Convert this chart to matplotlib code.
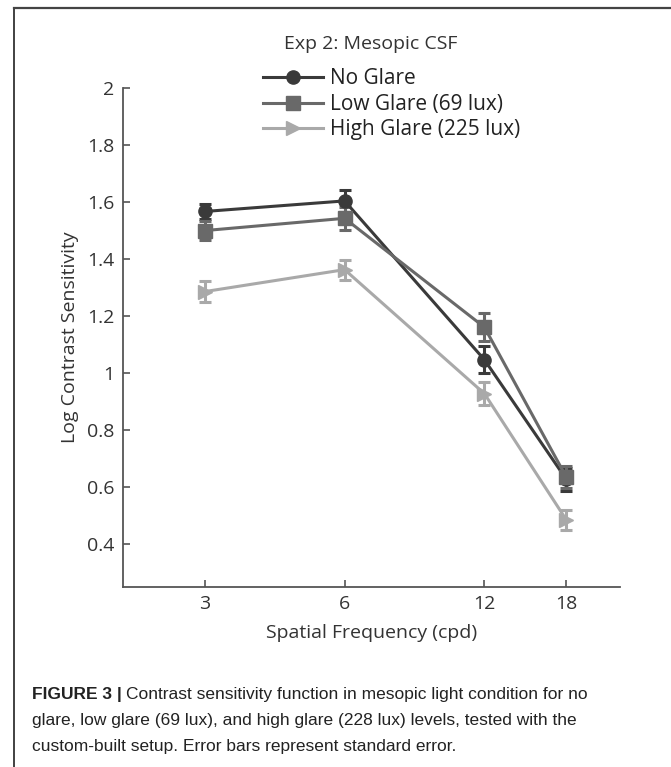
import matplotlib
matplotlib.use("Agg")
import matplotlib.pyplot as plt
from matplotlib.lines import Line2D
import numpy as np

freqs = [3, 6, 12, 18]
no_glare = [1.567, 1.604, 1.047, 0.628]
no_glare_err = [0.025, 0.038, 0.048, 0.04]
low_glare = [1.50, 1.543, 1.161, 0.636]
low_glare_err = [0.033, 0.04, 0.05, 0.04]
high_glare = [1.286, 1.363, 0.928, 0.486]
high_glare_err = [0.037, 0.035, 0.04, 0.035]
labels = ["No Glare", "Low Glare (69 lux)", "High Glare (225 lux)"]
ytick_vals = [0.4, 0.6, 0.8, 1.0, 1.2, 1.4, 1.6, 1.8, 2.0]
ytick_labels = ["0.4", "0.6", "0.8", "1", "1.2", "1.4", "1.6", "1.8", "2"]

colors = ["#3a3a3a", "#696969", "#a9a9a9"]
markers = ["o", "s", ">"]
txt = "#333333"
font = ["Open Sans", "DejaVu Sans"]
capfont = ["Liberation Sans", "DejaVu Sans"]

W, H = 671, 767
fig = plt.figure(figsize=(W / 100, H / 100), dpi=100)
ax = fig.add_axes([123 / W, 1 - 587 / H, (620 - 123) / W, (587 - 88) / H])

series = [(no_glare, no_glare_err), (low_glare, low_glare_err), (high_glare, high_glare_err)]
handles = []
for (vals, errs), c, m, lab in zip(series, colors, markers, labels):
    ax.errorbar(freqs, vals, yerr=errs, color=c, ecolor=c, elinewidth=2.2,
                capsize=4, capthick=2.2, lw=2.2, marker=m, markersize=9.5,
                markeredgecolor=c, markerfacecolor=c, zorder=3)
    handles.append(Line2D([], [], color=c, lw=2.2, marker=m, markersize=9.5,
                          markerfacecolor=c, markeredgecolor=c))

ax.set_xscale("log")
ax.set_xlim(2, 23.5)
ax.set_ylim(0.25, 2.0)
ax.set_xticks(freqs)
ax.set_xticklabels([str(f) for f in freqs])
ax.xaxis.set_minor_locator(matplotlib.ticker.NullLocator())
ax.set_yticks(ytick_vals)
ax.set_yticklabels(ytick_labels)
for s in ["top", "right"]:
    ax.spines[s].set_visible(False)
for s in ["left", "bottom"]:
    ax.spines[s].set_color("#555555")
    ax.spines[s].set_linewidth(1.3)
ax.tick_params(direction="in", length=5, width=1.2, color="#555555",
               labelcolor=txt, labelsize=14, pad=6)
for lbl in ax.get_xticklabels() + ax.get_yticklabels():
    lbl.set_family(font)

ax.set_xlabel("Spatial Frequency (cpd)", fontsize=14, color=txt, family=font, labelpad=8)
ax.set_ylabel("Log Contrast Sensitivity", fontsize=14, color=txt, family=font, labelpad=6)

fig.text(371 / W, 1 - 44 / H, "Exp 2: Mesopic CSF", ha="center", va="center",
         fontsize=14, color=txt, family=font)

leg = fig.legend(handles, labels, loc="upper left", bbox_to_anchor=(255 / W, 1 - 60 / H),
                 frameon=False, handlelength=2.85, handletextpad=0.34, labelspacing=0.22,
                 prop={"family": font, "size": 15}, borderaxespad=0)
for t in leg.get_texts():
    t.set_color("#222222")

# figure border (left and top)
fig.add_artist(Line2D([14 / W, 14 / W], [0, 1 - 8 / H], transform=fig.transFigure,
                      color="#333333", lw=1.3))
fig.add_artist(Line2D([14 / W, 1], [1 - 8 / H, 1 - 8 / H], transform=fig.transFigure,
                      color="#444444", lw=1.6))

cap_lines = [
    "Contrast sensitivity function in mesopic light condition for no",
    "glare, low glare (69 lux), and high glare (228 lux) levels, tested with the",
    "custom-built setup. Error bars represent standard error.",
]
x0 = 32 / W
y0 = 1 - 695 / H
t0 = fig.text(x0, y0, "FIGURE 3 |", fontsize=12.5, fontweight="bold", color="#222222",
              family=capfont, va="center")
fig.canvas.draw()
bb = t0.get_window_extent()
fig.text(bb.x1 / W + 4 / W, y0, cap_lines[0], fontsize=12.5, color="#222222",
         family=capfont, va="center")
fig.text(x0, 1 - 721 / H, cap_lines[1], fontsize=12.5, color="#222222", family=capfont, va="center")
fig.text(x0, 1 - 746 / H, cap_lines[2], fontsize=12.5, color="#222222", family=capfont, va="center")

fig.savefig("out.png", dpi=100)
